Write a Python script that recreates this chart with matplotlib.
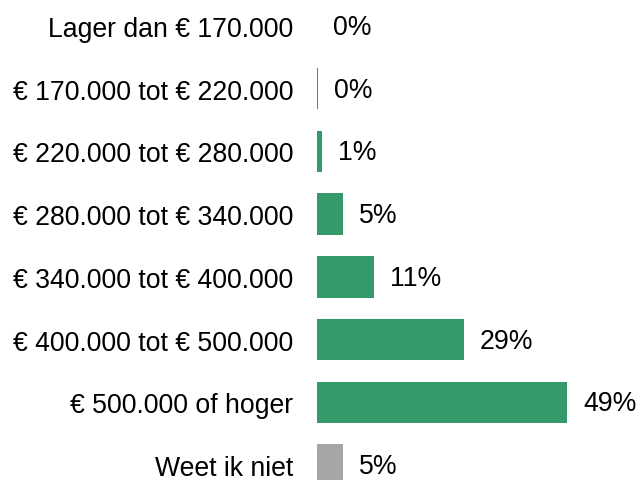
import matplotlib
matplotlib.use("Agg")
import matplotlib.pyplot as plt

categories = ["Lager dan € 170.000", "€ 170.000 tot € 220.000", "€ 220.000 tot € 280.000",
              "€ 280.000 tot € 340.000", "€ 340.000 tot € 400.000", "€ 400.000 tot € 500.000",
              "€ 500.000 of hoger", "Weet ik niet"]
values = [0.0, 0.25, 1.0, 5.1, 11.2, 28.7, 49.0, 5.1]
labels = ["0%", "0%", "1%", "5%", "11%", "29%", "49%", "5%"]
colors = ["#359a6a"] * 7 + ["#a6a6a6"]

plt.rcParams['font.family'] = ['Liberation Sans', 'DejaVu Sans']

fig = plt.figure(figsize=(6.39, 4.81), dpi=100)
ax = fig.add_axes([317 / 639, 0, 1 - 317 / 639, 1])
y = range(len(categories))
ax.barh(y, values, height=0.66, color=colors)
for i, (v, lab) in enumerate(zip(values, labels)):
    ax.annotate(lab, (v, i), xytext=(16, -1), textcoords='offset pixels',
                va='center', ha='left', fontsize=19.2)
ax.set_yticks(list(y))
ax.set_yticklabels(categories, fontsize=19.2)
ax.tick_params(axis='y', length=0, pad=17)
ax.set_xticks([])
ax.set_xlim(0, 63)
ax.set_ylim(7.24, -0.43)
for s in ax.spines.values():
    s.set_visible(False)
fig.savefig("out.png", dpi=100)
